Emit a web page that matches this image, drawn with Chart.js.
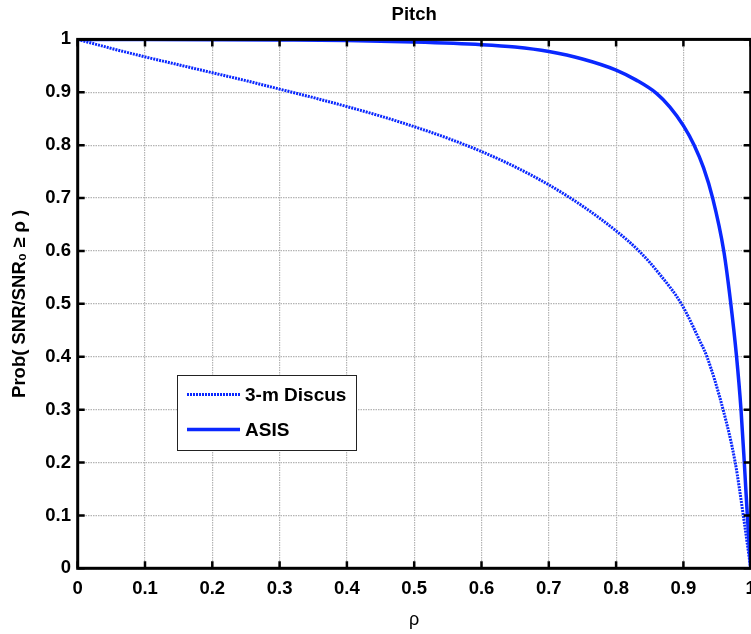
<!DOCTYPE html>
<html>
<head>
<meta charset="utf-8">
<script src="https://cdn.jsdelivr.net/npm/chart.js@4/dist/chart.umd.min.js"></script>
<style>
  html, body { margin: 0; padding: 0; background: #fff; }
  #wrap { width: 751px; height: 634px; position: relative; }
</style>
</head>
<body>
<div id="wrap"><canvas id="c" width="751" height="634"></canvas></div>
<script>
// ---- data ----
const chartTitle = 'Pitch';
const xAxisTitle = 'ρ';
const yAxisTitle = 'Prob( SNR/SNR₀ ≥ ρ )';
const seriesNames = ['3-m Discus', 'ASIS'];

const rhoDiscus  = [0, 0.05, 0.1, 0.15, 0.2, 0.25, 0.3, 0.35, 0.4, 0.45, 0.5, 0.55, 0.6, 0.65, 0.7, 0.75, 0.8, 0.834, 0.866, 0.897, 0.924, 0.935, 0.959, 0.977, 0.989, 1.0];
const probDiscus = [1.0, 0.983, 0.967, 0.952, 0.937, 0.922, 0.906, 0.89, 0.873, 0.855, 0.835, 0.813, 0.788, 0.759, 0.725, 0.685, 0.638, 0.6, 0.554, 0.5, 0.431, 0.4, 0.3, 0.2, 0.1, 0];

const rhoAsis  = [0, 0.1, 0.2, 0.3, 0.4, 0.5, 0.6, 0.65, 0.7, 0.75, 0.8, 0.83, 0.86, 0.88, 0.9, 0.916, 0.93, 0.9435, 0.96, 0.97, 0.979, 0.9856, 0.9905, 0.995, 1.0];
const probAsis = [1.0, 0.9998, 0.9995, 0.999, 0.998, 0.995, 0.99, 0.9855, 0.977, 0.963, 0.942, 0.923, 0.898, 0.872, 0.837, 0.8, 0.757, 0.7, 0.6, 0.505, 0.4, 0.3, 0.2, 0.1, 0];

const xTickValues = [0, 0.1, 0.2, 0.3, 0.4, 0.5, 0.6, 0.7, 0.8, 0.9, 1];
const xTickLabels = ['0', '0.1', '0.2', '0.3', '0.4', '0.5', '0.6', '0.7', '0.8', '0.9', '1'];
const yTickValues = [0, 0.1, 0.2, 0.3, 0.4, 0.5, 0.6, 0.7, 0.8, 0.9, 1];
const yTickLabels = ['0', '0.1', '0.2', '0.3', '0.4', '0.5', '0.6', '0.7', '0.8', '0.9', '1'];

// ---- styling ----
const FONT = "'Liberation Sans', Arial, 'DejaVu Sans', sans-serif";
const BLUE = '#0a28ff';

function toPoints(xs, ys) { return xs.map((x, i) => ({ x: x, y: ys[i] })); }

const framePlugin = {
  id: 'matlabFrame',
  afterDraw(chart) {
    const ctx = chart.ctx;
    const a = chart.chartArea;
    const xs = chart.scales.x, ys = chart.scales.y;
    ctx.save();
    // inward ticks
    ctx.strokeStyle = '#000';
    ctx.lineWidth = 2.5;
    const tl = 7;
    xs.ticks.forEach(t => {
      const px = xs.getPixelForValue(t.value);
      ctx.beginPath();
      ctx.moveTo(px, a.bottom); ctx.lineTo(px, a.bottom - tl);
      ctx.moveTo(px, a.top); ctx.lineTo(px, a.top + tl);
      ctx.stroke();
    });
    ys.ticks.forEach(t => {
      const py = ys.getPixelForValue(t.value);
      ctx.beginPath();
      ctx.moveTo(a.left, py); ctx.lineTo(a.left + tl, py);
      ctx.moveTo(a.right, py); ctx.lineTo(a.right - tl, py);
      ctx.stroke();
    });
    // frame
    ctx.lineWidth = 3;
    ctx.strokeRect(a.left, a.top, a.right - a.left, a.bottom - a.top);

    // legend box
    const bx = 177, by = 375, bw = 179, bh = 75;
    ctx.fillStyle = '#fff';
    ctx.fillRect(bx, by, bw, bh);
    ctx.lineWidth = 1;
    ctx.strokeStyle = '#222';
    ctx.strokeRect(bx + 0.5, by + 0.5, bw, bh);
    const rowsY = [394.5, 429.5];
    chart.data.datasets.forEach((ds, i) => {
      const y = rowsY[i];
      ctx.save();
      ctx.strokeStyle = ds.borderColor;
      ctx.lineWidth = ds.borderWidth;
      ctx.setLineDash(ds.borderDash || []);
      ctx.beginPath();
      ctx.moveTo(187, y); ctx.lineTo(240, y);
      ctx.stroke();
      ctx.restore();
      ctx.fillStyle = '#000';
      ctx.font = 'bold 19px ' + FONT;
      ctx.textBaseline = 'middle';
      ctx.textAlign = 'left';
      ctx.fillText(ds.label, 245, y + 1);
    });
    ctx.restore();
  }
};

new Chart(document.getElementById('c'), {
  type: 'line',
  data: {
    datasets: [
      {
        label: seriesNames[0],
        data: toPoints(rhoDiscus, probDiscus),
        borderColor: BLUE,
        borderWidth: 3,
        borderDash: [2, 1],
        pointRadius: 0,
        fill: false,
        cubicInterpolationMode: 'monotone'
      },
      {
        label: seriesNames[1],
        data: toPoints(rhoAsis, probAsis),
        borderColor: BLUE,
        borderWidth: 3.5,
        pointRadius: 0,
        fill: false,
        cubicInterpolationMode: 'monotone'
      }
    ]
  },
  options: {
    responsive: false,
    animation: false,
    devicePixelRatio: 1,
    layout: { padding: { left: 0, right: 0.3, top: 0, bottom: 0 } },
    plugins: {
      legend: { display: false },
      tooltip: { enabled: false },
      title: {
        display: true,
        text: chartTitle,
        fullSize: false,
        color: '#000',
        font: { family: FONT, size: 18.5, weight: 'bold', lineHeight: 1.2 },
        padding: { top: 3.9, bottom: 13.3 }
      }
    },
    scales: {
      x: {
        type: 'linear',
        min: 0, max: 1,
        afterBuildTicks(s) { s.ticks = xTickValues.map(v => ({ value: v })); },
        afterFit(s) { s.height = 65.7; s.paddingLeft = 0; s.paddingRight = 0; },
        ticks: {
          autoSkip: false, maxRotation: 0, minRotation: 0,
          padding: 9.6,
          color: '#000',
          font: { family: FONT, size: 18.5, weight: 'bold' },
          callback: (v, i) => xTickLabels[i]
        },
        grid: { display: true, drawTicks: false, color: '#b4b4b4', lineWidth: 1.2 },
        border: { display: false, dash: [1.5, 1] },
        title: {
          display: true, text: xAxisTitle, color: '#000',
          font: { family: FONT, size: 18, lineHeight: 1.2 },
          padding: { top: 0, bottom: 3.2 }
        }
      },
      y: {
        type: 'linear',
        min: 0, max: 1,
        afterBuildTicks(s) { s.ticks = yTickValues.map(v => ({ value: v })); },
        afterFit(s) { s.width = 77.7; s.paddingTop = 0; s.paddingBottom = 0; },
        ticks: {
          autoSkip: false,
          padding: 6.7,
          color: '#000',
          font: { family: FONT, size: 18.5, weight: 'bold' },
          callback: (v, i) => yTickLabels[i]
        },
        grid: { display: true, drawTicks: false, color: '#b4b4b4', lineWidth: 1.2 },
        border: { display: false, dash: [1.5, 1] },
        title: {
          display: true, text: yAxisTitle, color: '#000',
          font: { family: FONT, size: 18.5, weight: 'bold', lineHeight: 1.2 },
          padding: { top: 9.2, bottom: 0 }
        }
      }
    }
  },
  plugins: [framePlugin]
});
</script>
</body>
</html>
